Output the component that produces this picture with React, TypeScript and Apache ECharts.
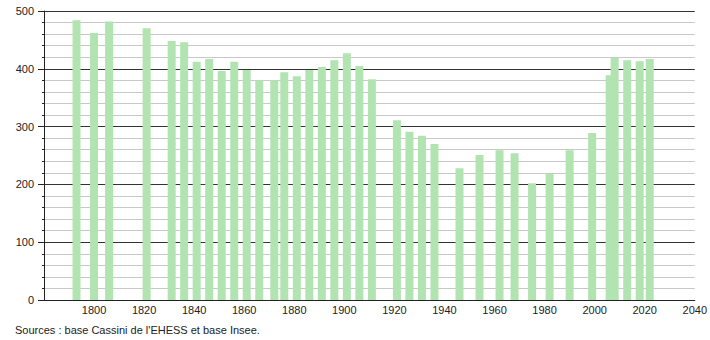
import React, { useEffect, useRef } from "react";
import * as echarts from "echarts";

const years = [1793, 1800, 1806, 1821, 1831, 1836, 1841, 1846, 1851, 1856, 1861, 1866, 1872, 1876, 1881, 1886, 1891, 1896, 1901, 1906, 1911, 1921, 1926, 1931, 1936, 1946, 1954, 1962, 1968, 1975, 1982, 1990, 1999, 2006, 2008, 2013, 2018, 2022];
const population = [484, 462, 482, 470, 448, 446, 412, 417, 396, 412, 398, 380, 380, 394, 387, 398, 403, 415, 427, 405, 382, 311, 291, 284, 270, 228, 251, 259, 254, 202, 218, 259, 289, 389, 419, 415, 413, 417];
const sourceText = "Sources : base Cassini de l'EHESS et base Insee.";

export default function App() {
  const ref = useRef<HTMLDivElement>(null);
  useEffect(() => {
    if (!ref.current) return;
    const chart = echarts.init(ref.current, null, { renderer: "svg" });
    const font = "'Liberation Sans', Arial, sans-serif";
    chart.setOption({
      animation: false,
      backgroundColor: "#ffffff",
      grid: { left: 44, right: 10, top: 11, bottom: 40, containLabel: false },
      xAxis: {
        type: "value",
        min: 1780,
        max: 2040,
        interval: 20,
        axisLine: { show: true, lineStyle: { color: "#222", width: 1 } },
        axisTick: { show: false },
        splitLine: { show: false },
        axisLabel: {
          color: "#222",
          fontFamily: font,
          fontSize: 11,
          margin: 4,
          formatter: (v: number) => (v === 1780 ? "" : String(v)),
        },
      },
      yAxis: {
        type: "value",
        min: 0,
        max: 500,
        interval: 100,
        axisLine: { show: true, lineStyle: { color: "#222", width: 1 } },
        axisTick: { show: true, length: 6, lineStyle: { color: "#222" } },
        minorTick: { show: true, splitNumber: 5, length: 2, lineStyle: { color: "#222" } },
        splitLine: { show: true, lineStyle: { color: "#333", width: 1 } },
        minorSplitLine: { show: true, lineStyle: { color: "#c8c8c8", width: 1 } },
        axisLabel: { color: "#222", fontFamily: font, fontSize: 11, margin: 10 },
      },
      series: [
        {
          type: "bar",
          data: years.map((y, i) => [y, population[i]]),
          barWidth: 8,
          itemStyle: { color: "#b2e4b2" },
          z: 3,
        },
      ],
      graphic: [
        {
          type: "text",
          left: 15,
          top: 324,
          style: { text: sourceText, fill: "#222", font: `11px ${font}` },
        },
      ],
    });
    return () => chart.dispose();
  }, []);
  return (
    <div
      ref={ref}
      style={{ position: "fixed", left: 0, top: 0, width: 710, height: 340 }}
    />
  );
}
